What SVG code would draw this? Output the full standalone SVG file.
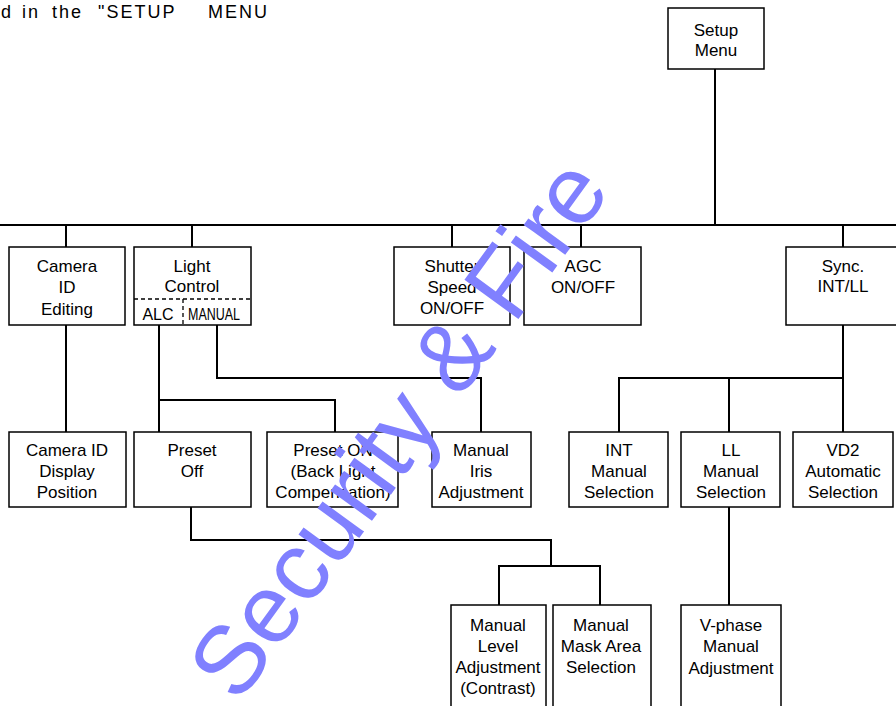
<svg xmlns="http://www.w3.org/2000/svg" width="896" height="706" viewBox="0 0 896 706">
<style>
.box{fill:#fff;stroke:#000;stroke-width:1.5}
.ln{fill:none;stroke:#000;stroke-width:2}
.dash{fill:none;stroke:#000;stroke-width:1.3;stroke-dasharray:4 3}
text{font-family:"Liberation Sans",Arial,sans-serif;font-size:17px;fill:#000}
.c{text-anchor:middle}
.hd{font-size:18px;letter-spacing:2px}
.wm{font-size:97px;fill:#8080ff}
</style>
<rect width="896" height="706" fill="#fff"/>
<g id="header">
<text class="hd" x="1" y="18">d</text><text class="hd" x="22" y="18">in</text><text class="hd" x="52" y="18">the</text><text class="hd" x="98" y="18">"SETUP</text><text class="hd" x="208" y="18">MENU</text>
</g>
<g id="connectors">
<path class="ln" d="M715 69V225M0 225H896M66 225V247M192 225V247M452 225V247M581 225V247M843 225V247"/>
<path class="ln" d="M66 325V432"/>
<path class="ln" d="M159 325V432M159 400H335V432"/>
<path class="ln" d="M217 325V378H481V432"/>
<path class="ln" d="M191 507V540H551V566M499 605V566H600V605"/>
<path class="ln" d="M843 325V378M619 432V378H843V432M729 378V432"/>
<path class="ln" d="M729 507V605"/>
</g>
<g id="setup-menu"><rect class="box" x="668" y="8" width="96" height="61"/><text class="c" x="716" y="36">Setup</text><text class="c" x="716" y="56">Menu</text></g>
<g id="camera-id-editing"><rect class="box" x="9" y="247" width="116" height="78"/><text class="c" x="67" y="272">Camera</text><text class="c" x="67" y="293">ID</text><text class="c" x="67" y="315">Editing</text></g>
<g id="light-control"><rect class="box" x="134" y="247" width="117" height="78"/><text class="c" x="192" y="272">Light</text><text class="c" x="192" y="292">Control</text>
<path class="dash" d="M134 299H251M183 299V325"/>
<text class="c" x="158" y="320" style="font-size:16px">ALC</text><text x="188" y="320" style="font-size:16px" textLength="52" lengthAdjust="spacingAndGlyphs">MANUAL</text></g>
<g id="shutter-speed"><rect class="box" x="394" y="247" width="116" height="78"/><text class="c" x="452" y="272">Shutter</text><text class="c" x="452" y="293">Speed</text><text class="c" x="452" y="314">ON/OFF</text></g>
<g id="agc"><rect class="box" x="524" y="247" width="117" height="78"/><text class="c" x="583" y="272">AGC</text><text class="c" x="583" y="293">ON/OFF</text></g>
<g id="sync"><rect class="box" x="786" y="247" width="116" height="78"/><text class="c" x="843" y="272">Sync.</text><text class="c" x="843" y="292">INT/LL</text></g>
<g id="camera-id-display"><rect class="box" x="9" y="432" width="117" height="75"/><text class="c" x="67" y="456">Camera ID</text><text class="c" x="67" y="477">Display</text><text class="c" x="67" y="498">Position</text></g>
<g id="preset-off"><rect class="box" x="134" y="432" width="117" height="75"/><text class="c" x="192" y="456">Preset</text><text class="c" x="192" y="477">Off</text></g>
<g id="preset-on"><rect class="box" x="267" y="432" width="131" height="75"/><text class="c" x="333" y="456">Preset ON</text><text class="c" x="333" y="477">(Back Light</text><text class="c" x="333" y="498">Compensation)</text></g>
<g id="manual-iris"><rect class="box" x="432" y="432" width="99" height="75"/><text class="c" x="481" y="456">Manual</text><text class="c" x="481" y="477">Iris</text><text class="c" x="481" y="498">Adjustment</text></g>
<g id="int-manual"><rect class="box" x="569" y="432" width="99" height="75"/><text class="c" x="619" y="456">INT</text><text class="c" x="619" y="477">Manual</text><text class="c" x="619" y="498">Selection</text></g>
<g id="ll-manual"><rect class="box" x="681" y="432" width="99" height="75"/><text class="c" x="731" y="456">LL</text><text class="c" x="731" y="477">Manual</text><text class="c" x="731" y="498">Selection</text></g>
<g id="vd2-automatic"><rect class="box" x="793" y="432" width="100" height="75"/><text class="c" x="843" y="456">VD2</text><text class="c" x="843" y="477">Automatic</text><text class="c" x="843" y="498">Selection</text></g>
<g id="manual-level"><rect class="box" x="451" y="605" width="95" height="110"/><text class="c" x="498" y="631">Manual</text><text class="c" x="498" y="652">Level</text><text class="c" x="498" y="673">Adjustment</text><text class="c" x="498" y="694">(Contrast)</text></g>
<g id="manual-mask"><rect class="box" x="553" y="605" width="98" height="110"/><text class="c" x="601" y="631">Manual</text><text class="c" x="601" y="652">Mask Area</text><text class="c" x="601" y="673">Selection</text></g>
<g id="v-phase"><rect class="box" x="681" y="605" width="100" height="110"/><text class="c" x="731" y="631">V-phase</text><text class="c" x="731" y="652">Manual</text><text class="c" x="731" y="674">Adjustment</text></g>
<text class="wm" transform="translate(238 705) rotate(-54)">Security &amp; Fire</text>
</svg>
